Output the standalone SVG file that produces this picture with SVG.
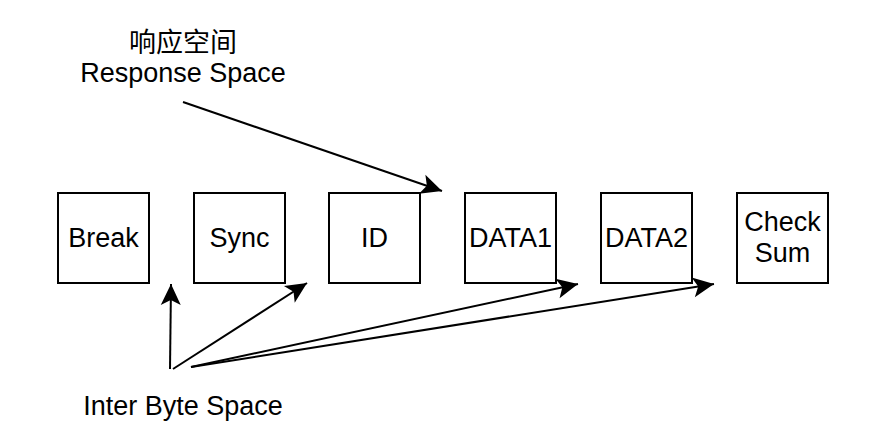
<svg xmlns="http://www.w3.org/2000/svg" width="880" height="432" viewBox="0 0 880 432">
<defs>
<style>
.box{fill:#fff;stroke:#000;stroke-width:2}
.t{font-family:"Liberation Sans",Arial,"Noto Sans CJK SC",sans-serif;font-size:27px;fill:#000;text-anchor:middle}
.c{fill:none;stroke:#000;stroke-width:2}
</style>
<marker id="ah" markerUnits="userSpaceOnUse" viewBox="-22 -11 24 22" refX="0" refY="0" markerWidth="24" markerHeight="22" orient="auto">
<path d="M0,0 L-21,-10 L-16,0 L-21,10 Z" fill="#000"/>
</marker>
</defs>
<rect width="880" height="432" fill="#fff"/>
<g id="break"><rect class="box" x="58" y="193" width="91" height="90"/><text class="t" x="103.5" y="247">Break</text></g>
<g id="sync"><rect class="box" x="194" y="193" width="91" height="90"/><text class="t" x="239.5" y="247">Sync</text></g>
<g id="id"><rect class="box" x="329" y="193" width="91" height="90"/><text class="t" x="374.5" y="247">ID</text></g>
<g id="data1"><rect class="box" x="465" y="193" width="91" height="90"/><text class="t" x="510.5" y="247">DATA1</text></g>
<g id="data2"><rect class="box" x="601" y="193" width="91" height="90"/><text class="t" x="646.5" y="247">DATA2</text></g>
<g id="checksum"><rect class="box" x="737" y="193" width="91" height="90"/><text class="t" x="782.5" y="231">Check</text><text class="t" x="782.5" y="262">Sum</text></g>
<g id="response"><text class="t" x="183" y="52">响应空间</text><text class="t" x="183" y="82">Response Space</text></g>
<g id="interbyte"><text class="t" x="183" y="415">Inter Byte Space</text></g>
<g id="connectors">
<line class="c" x1="183" y1="102" x2="442" y2="191" marker-end="url(#ah)"/>
<line class="c" x1="170" y1="369" x2="171" y2="284" marker-end="url(#ah)"/>
<line class="c" x1="173" y1="369" x2="307" y2="283" marker-end="url(#ah)"/>
<line class="c" x1="191" y1="367" x2="578" y2="284" marker-end="url(#ah)"/>
<line class="c" x1="191" y1="367" x2="714" y2="284" marker-end="url(#ah)"/>
</g>
</svg>
